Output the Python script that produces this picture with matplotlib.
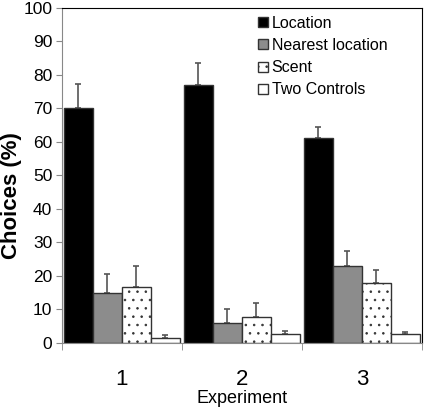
import numpy as np
import matplotlib.pyplot as plt

plt.rcParams["font.family"] = ["Liberation Sans", "DejaVu Sans"]
plt.rcParams["hatch.linewidth"] = 0.6

experiments = ["1", "2", "3"]
series = ["Location", "Nearest location", "Scent", "Two Controls"]
location = [70, 77, 61]
nearest = [14.8, 5.8, 23]
scent = [16.8, 7.8, 17.8]
controls = [1.5, 2.7, 2.7]
location_err = [7.3, 6.5, 3.5]
nearest_err = [5.7, 4.2, 4.3]
scent_err = [6.0, 4.0, 3.8]
controls_err = [0.8, 0.9, 0.6]

values = [location, nearest, scent, controls]
errors = [location_err, nearest_err, scent_err, controls_err]
faces = ["black", "#8c8c8c", "white", "white"]
hatches = [None, None, "..", None]

fig = plt.figure(figsize=(4.27, 4.13), dpi=100)
ax = fig.add_axes([0.145, 0.17, 0.843, 0.811])

w = 0.2417
pos = np.arange(len(experiments))
for k in range(4):
    x = pos + 0.0167 + w * k + w / 2
    ax.bar(x, values[k], width=w, color=faces[k], edgecolor="#333333",
           linewidth=1.0, hatch=hatches[k], label=series[k], zorder=2)
    ax.errorbar(x, values[k], yerr=[np.zeros(3), errors[k]], fmt="none",
                ecolor="#555555", elinewidth=1.2, capsize=2.5, capthick=1.2, zorder=1)

ax.set_xlim(0, 3)
ax.set_ylim(0, 100)
ax.set_yticks(range(0, 101, 10))
ax.tick_params(axis="y", labelsize=12.5, length=4, color="#888888", pad=3)
ax.set_xticks(pos + 0.5)
ax.set_xticklabels(experiments, fontsize=16)
ax.set_xticks([0, 1, 2, 3], minor=True)
ax.tick_params(axis="x", which="major", length=0, pad=19)
ax.tick_params(axis="x", which="minor", length=5, color="#888888")
for s in ["left", "bottom"]:
    ax.spines[s].set_color("#888888")
ax.set_xlabel("Experiment", fontsize=13, labelpad=0)
ax.set_ylabel("Choices (%)", fontsize=16, fontweight="bold")
ax.yaxis.set_label_coords(-0.112, 0.44)

ax.legend(loc="upper right", bbox_to_anchor=(0.926, 1.0), frameon=False, fontsize=11.5,
          handlelength=0.6, handleheight=0.6, handletextpad=0.25, labelspacing=0.45,
          borderaxespad=0.1)

fig.savefig("out.png", dpi=100)
